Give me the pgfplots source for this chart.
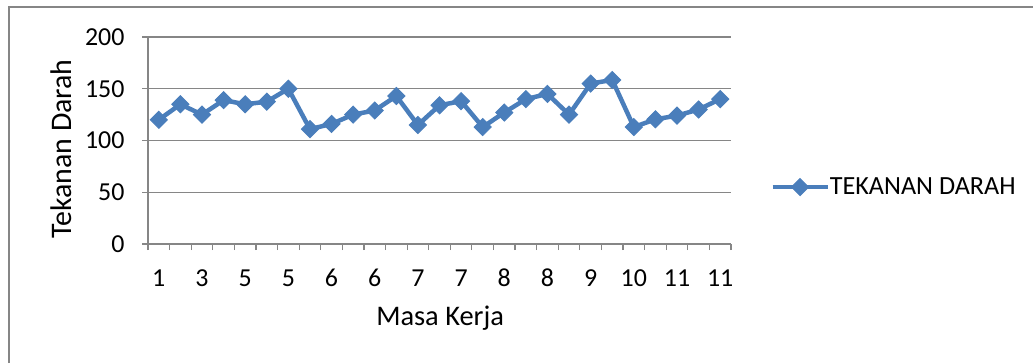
\documentclass[border=0pt]{standalone}
\usepackage{fontspec}
\setmainfont{Carlito}
\usepackage{pgfplots}
\pgfplotsset{compat=1.18}
\definecolor{serblue}{RGB}{74,126,187}
\definecolor{gridgray}{RGB}{134,134,134}
\begin{document}
\begin{tikzpicture}[x=1bp,y=1bp]
\path[use as bounding box] (0,0) rectangle (1033,363);
\draw[gridgray, line width=2bp] (9,0) -- (9,356) -- (1033,356);
\begin{axis}[
  at={(148bp,119bp)}, anchor=south west,
  scale only axis, width=583bp, height=207bp,
  xmin=0.5, xmax=27.5, ymin=0, ymax=200,
  axis x line*=bottom, axis y line*=left,
  axis line style={gridgray, line width=1.2bp},
  xtick={0.5,1.5,...,27.5}, xticklabels={},
  extra x ticks={1,3,...,27},
  extra x tick labels={1,3,5,5,6,6,7,7,8,8,9,10,11,11},
  extra x tick style={major tick length=0pt, grid=none,
     xticklabel style={anchor=base, yshift=-42bp}},
  ytick={0,50,...,200},
  ymajorgrids, grid style={gridgray, line width=1.2bp},
  tick align=outside, major tick length=6bp,
  tick style={gridgray, line width=1.2bp},
  /pgf/number format/assume math mode=true,
  tick label style={font=\fontsize{26}{30}\selectfont, text=black},
  yticklabel style={xshift=-14bp},
  xlabel={Masa Kerja}, ylabel={Tekanan Darah},
  xlabel style={font=\fontsize{28.5}{32}\selectfont, at={(axis description cs:0.501,-0.396)}, anchor=base},
  ylabel style={font=\fontsize{30}{34}\selectfont, at={(axis description cs:-0.149,0.459)}, anchor=center},
  legend style={draw=none, fill=none, at={(axis description cs:1.067,0.275)},
     anchor=west, inner sep=0pt, font=\fontsize{26.3}{30}\selectfont,
     nodes={inner sep=0pt}},
  legend image code/.code={\draw[mark repeat=2,mark phase=2,#1] plot coordinates {(0bp,0bp)(27.5bp,0bp)(55bp,0bp)};},
  clip=false,
]
\addplot[serblue, line width=4.5bp, mark=square*, mark size=6bp,
  mark options={solid, rotate=45, fill=serblue, line width=1bp}]
  coordinates {
  (1,120) (2,135) (3,125) (4,139) (5,135) (6,137.5) (7,150) (8,111) (9,116)
  (10,125) (11,129) (12,143) (13,115) (14,134) (15,138) (16,113) (17,127)
  (18,140) (19,145) (20,125) (21,155) (22,158.5) (23,113) (24,120.5)
  (25,124) (26,130) (27,140)
  };
\addlegendentry{TEKANAN DARAH}
\end{axis}
\end{tikzpicture}
\end{document}
